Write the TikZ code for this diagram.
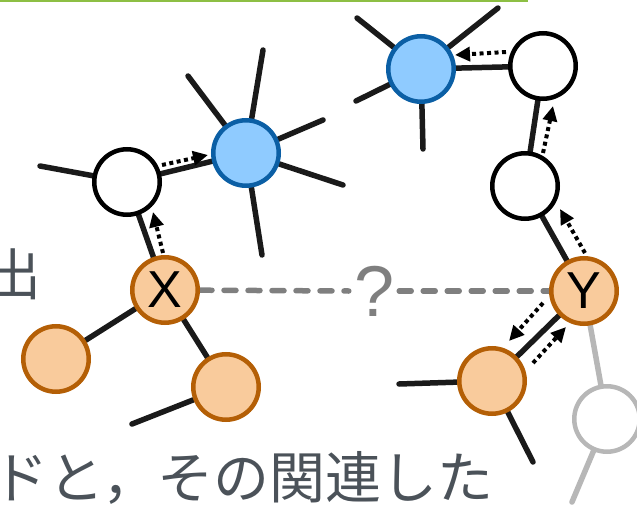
\documentclass[tikz,border=0pt]{standalone}
\usepackage{fontspec}
\newfontfamily\cjk{Noto Sans CJK JP}
\newfontfamily\lab{Liberation Sans}
\usetikzlibrary{arrows.meta,backgrounds}

\definecolor{edgeblack}{HTML}{1A1A1A}
\definecolor{bfill}{HTML}{8FCBFF}
\definecolor{bstroke}{HTML}{0B5FA5}
\definecolor{ofill}{HTML}{F9CB9C}
\definecolor{ostroke}{HTML}{B45F06}
\definecolor{gstroke}{HTML}{B7B7B7}
\definecolor{dashgray}{HTML}{7F7F7F}
\definecolor{txt}{HTML}{4B5259}
\definecolor{rule}{HTML}{8DBF44}

\tikzset{
  nd/.style={circle, minimum size=65.5pt, inner sep=0pt, line width=4.5pt},
  wnode/.style={nd, draw=black, fill=white},
  bnode/.style={nd, draw=bstroke, fill=bfill},
  onode/.style={nd, draw=ostroke, fill=ofill},
  gnode/.style={nd, draw=gstroke, fill=white},
  edge/.style={line width=5.5pt, line cap=round, draw=edgeblack},
  gedge/.style={edge, draw=gstroke},
  flow/.style={line width=4pt, draw=black, dash pattern=on 4pt off 3.5pt,
    -{Triangle[length=15pt,width=14pt]}},
  unknown/.style={line width=5.5pt, draw=dashgray, line cap=round,
    dash pattern=on 12pt off 12pt},
  letter/.style={font=\lab\fontsize{52}{56}\selectfont, text=black},
  bigtext/.style={font=\cjk\fontsize{56}{60}\selectfont, text=txt, inner sep=0pt},
}

\begin{document}
\begin{tikzpicture}[x=1pt, y=-1pt]
\useasboundingbox (0,0) rectangle (637,508);
\clip (0,0) rectangle (637,508);

% thin rule along the top
\draw[rule, line width=2pt] (0,1) -- (528,1);

% captions
\node[bigtext, anchor=base west] (t1) at (-15,295) {出};
\node[bigtext, anchor=base west] (t2) at (-8,498) {ドと，その関連した};

% nodes
\node[wnode] (w1) at (127,182) {};
\node[bnode] (b1) at (246,153) {};
\node[onode, letter] (x) at (165,290) {X};
\node[onode] (o1) at (56,359) {};
\node[onode] (o2) at (226,387) {};
\node[bnode] (b2) at (421,69) {};
\node[wnode] (w2) at (543,66) {};
\node[wnode] (w3) at (525,186) {};
\node[onode, letter] (y) at (584,291) {Y};
\node[onode] (o3) at (492,381) {};
\node[gnode] (g) at (607,419) {};
\node[font=\lab\fontsize{72}{76}\selectfont, text=dashgray, inner sep=0pt] (qm) at (375,291) {?};

% loose ends of edges
\coordinate (w1s) at (40,166);
\coordinate (b1s1) at (263,50);
\coordinate (b1s2) at (188,76);
\coordinate (b1s3) at (323,120);
\coordinate (b1s4) at (343,185);
\coordinate (b1s5) at (262,255);
\coordinate (b2s1) at (357,18);
\coordinate (b2s2) at (498,8);
\coordinate (b2s3) at (356,101);
\coordinate (b2s4) at (423,149);
\coordinate (o2s) at (132,424);
\coordinate (o3s1) at (399,384);
\coordinate (o3s2) at (533,462);
\coordinate (gs) at (572,502);

\begin{scope}[on background layer]
  \draw[edge] (w1) -- (w1s);
  \draw[edge] (w1) -- (b1);
  \draw[edge] (w1) -- (x);
  \foreach \c in {b1s1,b1s2,b1s3,b1s4,b1s5} \draw[edge] (b1) -- (\c);
  \foreach \c in {b2s1,b2s2,b2s3,b2s4} \draw[edge] (b2) -- (\c);
  \draw[edge] (x) -- (o1);
  \draw[edge] (x) -- (o2);
  \draw[edge] (o2) -- (o2s);
  \draw[edge] (b2) -- (w2);
  \draw[edge] (w2) -- (w3);
  \draw[edge] (w3) -- (y);
  \draw[edge] (y) -- (o3);
  \draw[edge] (o3) -- (o3s1);
  \draw[edge] (o3) -- (o3s2);
  \draw[gedge] (y) -- (g);
  \draw[gedge] (g) -- (gs);
  \draw[unknown] (x) -- ([xshift=-6pt]qm.west);
  \draw[unknown] ([xshift=4pt]qm.east) -- (y);
\end{scope}

% dotted flows along the edges
\coordinate (f1a) at (162,165); \coordinate (f1b) at (208,155);
\coordinate (f2a) at (163,253); \coordinate (f2b) at (153,212);
\coordinate (f3a) at (506,52);  \coordinate (f3b) at (455,55);
\coordinate (f4a) at (543,153); \coordinate (f4b) at (553,106);
\coordinate (f5a) at (585,253); \coordinate (f5b) at (560,209);
\coordinate (f6a) at (543,303); \coordinate (f6b) at (509,341);
\coordinate (f7a) at (533,363); \coordinate (f7b) at (566,327);
\foreach \n in {1,...,7} \draw[flow] (f\n a) -- (f\n b);
\end{tikzpicture}
\end{document}
